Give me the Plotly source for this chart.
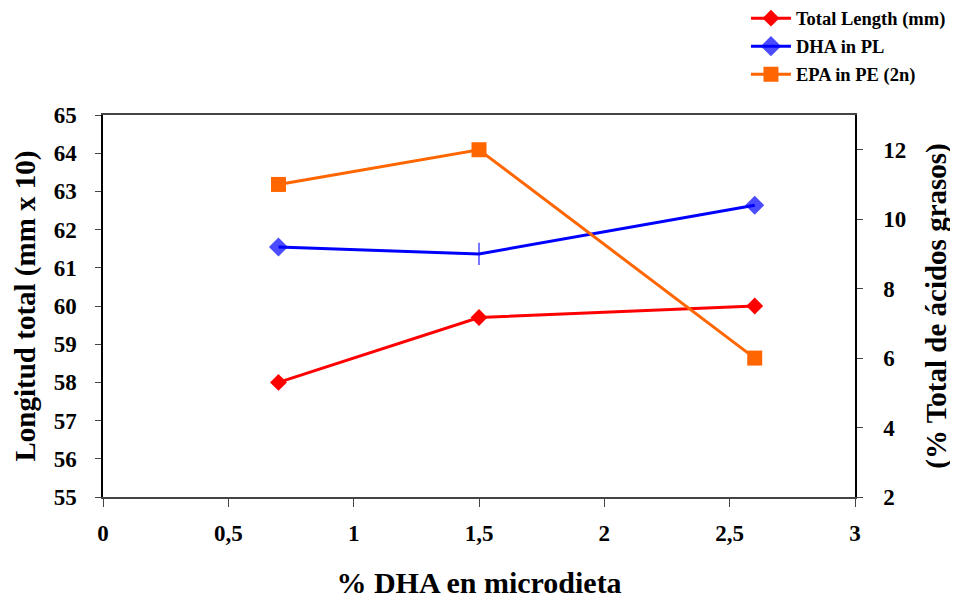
import plotly.graph_objects as go

x_vals = [0.7, 1.5, 2.6]
total_length = [58.0, 59.7, 60.0]
dha_pl = [9.2, 9.0, 10.4]
epa_pe = [11.0, 12.0, 6.0]
x_ticks = [0, 0.5, 1, 1.5, 2, 2.5, 3]
x_ticktext = ["0", "0,5", "1", "1,5", "2", "2,5", "3"]

FONT = "Liberation Serif"

fig = go.Figure()
fig.add_trace(go.Scatter(x=x_vals, y=total_length, name="Total Length (mm)", legendgroup="a",
                         mode="lines+markers", line=dict(color="#ff0000", width=3),
                         marker=dict(symbol="diamond", size=13, color="#ff0000")))
fig.add_trace(go.Scatter(x=x_vals, y=dha_pl, name="DHA in PL", yaxis="y2", legendgroup="b",
                         mode="lines+markers", line=dict(color="#0000ff", width=3),
                         marker=dict(symbol=["diamond", "line-ns", "diamond"], size=[13, 16, 13],
                                     color="#0000ff", line=dict(color="#0000ff", width=1.5))))
fig.add_trace(go.Scatter(x=x_vals, y=epa_pe, name="EPA in PE (2n)", yaxis="y2", legendgroup="c",
                         mode="lines+markers", line=dict(color="#ff6600", width=3),
                         marker=dict(symbol="square", size=15, color="#ff6600")))

axis_font = dict(family=FONT, size=23, color="black", weight="bold")
title_font = dict(family=FONT, size=29, color="black", weight="bold")
fig.update_layout(
    width=950, height=591,
    margin=dict(l=95, r=103, t=107, b=102, autoexpand=False),
    paper_bgcolor="white", plot_bgcolor="white",
    font=dict(family=FONT, color="black"),
    showlegend=True,
    legend=dict(x=0.855, y=1.302, xanchor="left", yanchor="top",
                font=dict(family=FONT, size=18.5, color="black", weight="bold"),
                bgcolor="rgba(0,0,0,0)", tracegroupgap=1, itemwidth=40),
    xaxis=dict(range=[0, 3], tickvals=x_ticks, ticktext=x_ticktext,
               showgrid=False, zeroline=False, showline=True, linecolor="#444", linewidth=2,
               mirror=True, ticks="outside", ticklen=8, tickcolor="#444",
               tickfont=axis_font, ticklabelstandoff=6,
               title=dict(text="% DHA en microdieta", font=dict(family=FONT, size=30, color="black", weight="bold"), standoff=27)),
    yaxis=dict(range=[55, 65], dtick=1, showgrid=False, zeroline=False,
               showline=True, linecolor="black", linewidth=1.5,
               ticks="outside", ticklen=6, tickcolor="#444", tickfont=axis_font,
               ticklabelstandoff=14,
               title=dict(text="Longitud total (mm x 10)", font=title_font, standoff=10)),
    yaxis2=dict(range=[2, 13], tickvals=[2, 4, 6, 8, 10, 12], overlaying="y", side="right",
                showgrid=False, zeroline=False, showline=True, linecolor="black", linewidth=1.5,
                ticks="outside", ticklen=6, tickcolor="#444", tickfont=axis_font,
                ticklabelstandoff=16,
                title=dict(text="(% Total de ácidos grasos)", font=title_font, standoff=20)),
)

fig.write_html("out.html")
